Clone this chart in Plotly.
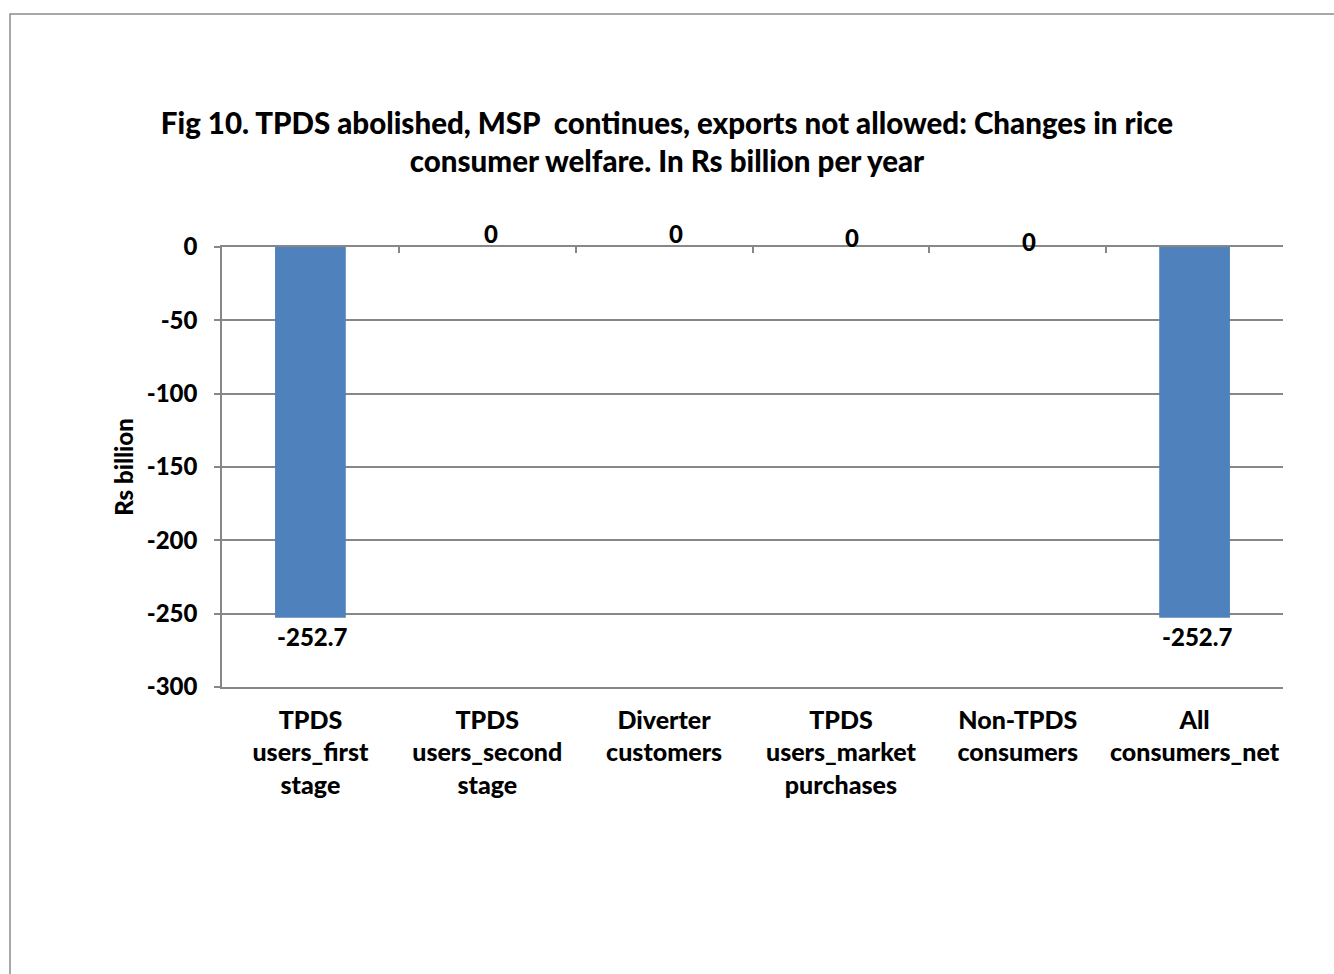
import plotly.graph_objects as go

categories = [
    "TPDS users_first stage",
    "TPDS users_second stage",
    "Diverter customers",
    "TPDS users_market purchases",
    "Non-TPDS consumers",
    "All consumers_net",
]
tick_labels = [
    "TPDS<br>users_first<br>stage",
    "TPDS<br>users_second<br>stage",
    "Diverter<br>customers",
    "TPDS<br>users_market<br>purchases",
    "Non-TPDS<br>consumers",
    "All<br>consumers_net",
]
welfare_change = [-252.7, 0, 0, 0, 0, -252.7]
y_ticks = [0, -50, -100, -150, -200, -250, -300]
y_tick_text = ["0", "-50", "-100", "-150", "-200", "-250", "-300"]

FONT = "Lato"
WEIGHT = 900
GRID = "#878787"
BAR = "#4F81BD"

# nudges for the zero-value labels (Excel-style staggered placement)
zero_label_dx = [4, 12, 11, 11]
zero_label_dy = [-1, -1, -5, -9]

fig = go.Figure()
fig.add_trace(go.Bar(
    x=categories, y=welfare_change, marker=dict(color=BAR, line=dict(width=0)),
    width=0.4, hoverinfo="skip", showlegend=False,
))
# invisible twin on the top axis so the zero line carries boundary ticks
fig.add_trace(go.Bar(
    x=categories, y=[None] * len(categories), xaxis="x2", showlegend=False,
    hoverinfo="skip",
))

# value labels
zi = 0
for cat, v in zip(categories, welfare_change):
    label = f"{v:g}"
    font = dict(family=FONT, size=24, color="black", weight=WEIGHT)
    if v < 0:
        fig.add_annotation(x=cat, y=v, text=label, showarrow=False,
                           yanchor="top", yshift=-2, xshift=2, font=font)
    else:
        fig.add_annotation(x=cat, y=v, text=label, showarrow=False,
                           yanchor="bottom", yshift=zero_label_dy[zi] - 2,
                           xshift=zero_label_dx[zi], font=font)
        zi += 1

# chart border
fig.add_shape(type="rect", xref="paper", yref="paper",
              x0=-0.1998, x1=1.2, y0=-0.8, y1=1.5295,
              line=dict(color="#8c8c8c", width=1.5), fillcolor="rgba(0,0,0,0)",
              layer="below")

fig.update_layout(
    width=1334, height=974,
    margin=dict(l=222, r=51, t=247, b=287),
    paper_bgcolor="white", plot_bgcolor="white",
    title=dict(
        text="Fig 10. TPDS abolished, MSP  continues, exports not allowed: Changes in rice<br>consumer welfare. In Rs billion per year",
        x=0.5, xref="container", xanchor="center",
        y=1 - 134 / 974, yref="container", yanchor="top",
        font=dict(family=FONT, size=29.5, color="black", weight=WEIGHT),
    ),
    xaxis=dict(
        type="category", tickmode="array", tickvals=categories, ticktext=tick_labels,
        showline=True, linecolor=GRID, linewidth=1.5, ticks="", showgrid=False,
        ticklabelstandoff=10,
        tickfont=dict(family=FONT, size=25, color="black", weight=WEIGHT),
        zeroline=False,
    ),
    xaxis2=dict(
        type="category", overlaying="x", side="top", anchor="y",
        matches="x", showticklabels=False, showline=True, linecolor=GRID,
        linewidth=1.5, ticks="inside", ticklen=6, tickcolor=GRID, tickwidth=1.5,
        tickson="boundaries", showgrid=False, zeroline=False,
    ),
    yaxis=dict(
        range=[-300, 0], tickmode="array", tickvals=y_ticks, ticktext=y_tick_text,
        showgrid=True, gridcolor=GRID, gridwidth=1.5,
        showline=True, linecolor=GRID, linewidth=1.5,
        ticks="outside", ticklen=6, tickcolor=GRID, tickwidth=1.5,
        ticklabelstandoff=12,
        tickfont=dict(family=FONT, size=24, color="black", weight=WEIGHT),
        zeroline=False,
        title=dict(text="Rs billion", standoff=6,
                   font=dict(family=FONT, size=24, color="black", weight=WEIGHT)),
    ),
)

fig.write_html("out.html")
